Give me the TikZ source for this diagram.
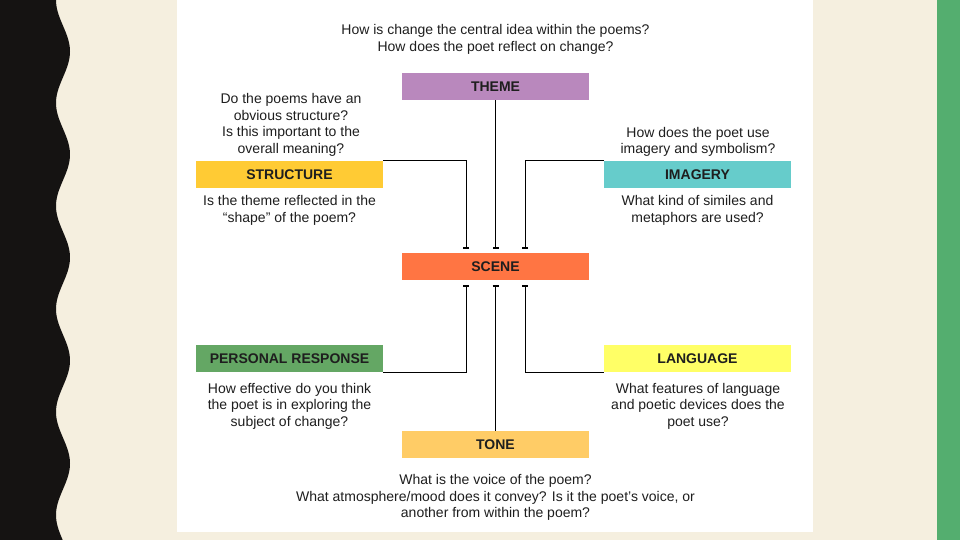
\documentclass[tikz,border=0pt]{standalone}
\usepackage{fontspec}
\setmainfont{Liberation Sans}
\usetikzlibrary{arrows.meta}
\definecolor{cream}{HTML}{F5EFDF}
\definecolor{stripgreen}{HTML}{54AE6F}
\definecolor{stripblack}{HTML}{151312}
\definecolor{cTheme}{HTML}{B988BD}
\definecolor{cStruct}{HTML}{FFCB34}
\definecolor{cImag}{HTML}{66CCCB}
\definecolor{cScene}{HTML}{FF7543}
\definecolor{cPers}{HTML}{64A764}
\definecolor{cLang}{HTML}{FFFF66}
\definecolor{cTone}{HTML}{FFCC66}
\definecolor{txt}{HTML}{1E1E1E}
\tikzset{
  box/.style={minimum width=187pt, minimum height=27pt, inner sep=0pt,
    font=\fontsize{14}{16.5}\selectfont\bfseries, text=txt},
  qtext/.style={align=center, inner sep=0pt, text=txt,
    font=\fontsize{14}{16.5}\selectfont},
  link/.style={line width=0.9pt, -{Bar[width=6pt,line width=2pt]}, shorten >=4.5pt},
}
\begin{document}
\begin{tikzpicture}[x=1pt,y=-1pt]
\useasboundingbox (0,0) rectangle (960,540);
\fill[cream] (0,0) rectangle (960,540);
\fill[stripgreen] (937,0) rectangle (960,540);
\fill[stripblack] (0,0) -- plot[domain=0:540, samples=220, variable=\t] ({63-7*cos(3.4951*\t)}, \t) -- (0,540) -- cycle;
\fill[white] (177,0) rectangle (813,532);

% boxes
\node[box, fill=cTheme]  (theme)  at (495.5,86.5)  {THEME};
\node[box, fill=cStruct] (struct) at (289.5,174.5) {STRUCTURE};
\node[box, fill=cImag]   (imag)   at (697.5,174.5) {IMAGERY};
\node[box, fill=cScene]  (scene)  at (495.5,266.5) {SCENE};
\node[box, fill=cPers]   (pers)   at (289.5,358.5) {PERSONAL RESPONSE};
\node[box, fill=cLang]   (lang)   at (697.5,358.5) {LANGUAGE};
\node[box, fill=cTone]   (tone)   at (495.5,444.5) {TONE};

% connector end points on SCENE
\coordinate (sTL) at (466,253);
\coordinate (sTC) at (495.5,253);
\coordinate (sTR) at (525,253);
\coordinate (sBL) at (466,280);
\coordinate (sBC) at (495.5,280);
\coordinate (sBR) at (525,280);

\draw[link] (theme.south) -- (sTC);
\draw[link] (struct.north east) -| (sTL);
\draw[link] (imag.north west) -| (sTR);
\draw[link] (tone.north) -- (sBC);
\draw[link] (pers.south east) -| (sBL);
\draw[link] (lang.south west) -| (sBR);

% texts
\node[qtext] (tTop) at (495.5,39.5) {How is change the central idea within the poems?\\How does the poet reflect on change?};
\node[qtext] (tStructA) at (291,125) {Do the poems have an\\obvious structure?\\Is this important to the\\overall meaning?};
\node[qtext] (tStructB) at (289.5,210.5) {Is the theme reflected in the\\“shape” of the poem?};
\node[qtext] (tImagA) at (698,142) {How does the poet use\\imagery and symbolism?};
\node[qtext] (tImagB) at (697.5,210.5) {What kind of similes and\\metaphors are used?};
\node[qtext] (tPers) at (289.5,406) {How effective do you think\\the poet is in exploring the\\subject of change?};
\node[qtext] (tLang) at (698,406) {What features of language\\and poetic devices does the\\poet use?};
\node[qtext] (tTone) at (495.5,497.5) {What is the voice of the poem?\\What atmosphere/mood does it convey? Is it the poet's voice, or\\another from within the poem?};
\end{tikzpicture}
\end{document}
